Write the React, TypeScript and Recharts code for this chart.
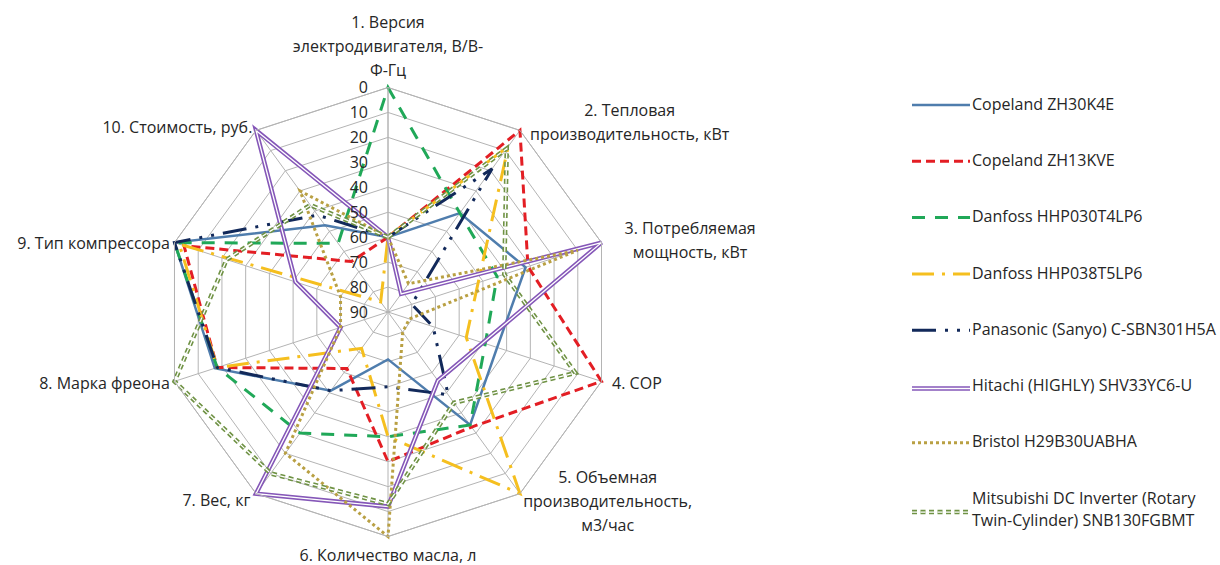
import React from 'react';
import { RadarChart, PolarGrid, PolarAngleAxis, PolarRadiusAxis, Radar, Legend } from 'recharts';

// axis names (line breaks as in the original)
const categories = [
  '1. Версия\nэлектродивигателя, В/В-\nФ-Гц',
  '2. Тепловая\nпроизводительность, кВт',
  '3. Потребляемая\nмощность, кВт',
  '4. COP',
  '5. Объемная\nпроизводительность,\nм3/час',
  '6. Количество масла, л',
  '7. Вес, кг',
  '8. Марка фреона',
  '9. Тип компрессора',
  '10. Стоимость, руб.',
];

const radiusTicks = [0, 10, 20, 30, 40, 50, 60, 70, 80, 90];

const copelandZH30K4E = [60, 41, 32, 44, 34, 71, 51, 17, 0, 47];
const copelandZH13KVE = [60, 0, 31, 0, 33, 30, 62, 18, 4, 65];
const danfossHHP030 = [0, 41, 44, 49, 34, 40, 30, 18, 0, 56];
const danfossHHP038 = [60, 8, 52, 57, 0, 40, 72, 18, 2, 85];
const panasonic = [60, 19, 80, 71, 49, 60, 51, 18, 0, 42];
const hitachi = [60, 81, 0, 50, 56, 12, 0, 70, 51, 0];
const bristol = [60, 76, 10, 81, 80, 0, 20, 70, 70, 30];
const mitsubishi = [60, 9, 41, 11, 45, 13, 10, 0, 22, 37];

const seriesNames = [
  'Copeland ZH30K4E',
  'Copeland ZH13KVE',
  'Danfoss HHP030T4LP6',
  'Danfoss HHP038T5LP6',
  'Panasonic (Sanyo) C-SBN301H5A',
  'Hitachi (HIGHLY)  SHV33YC6-U',
  'Bristol H29B30UABHA',
  'Mitsubishi DC Inverter (Rotary\nTwin-Cylinder) SNB130FGBMT',
];

const seriesValues = [
  copelandZH30K4E, copelandZH13KVE, danfossHHP030, danfossHHP038,
  panasonic, hitachi, bristol, mitsubishi,
];

const data = categories.map((axis, i) => {
  const row: Record<string, string | number> = { axis };
  seriesValues.forEach((vals, s) => { row['s' + s] = vals[i]; });
  return row;
});

// line styles per series
const styles = [
  { color: '#4f7dad', width: 2.5, dash: undefined, double: false },
  { color: '#e31e24', width: 3, dash: '9 5', double: false },
  { color: '#20a858', width: 3, dash: '13 10', double: false },
  { color: '#f5bf1f', width: 3, dash: '22 8 3 8', double: false },
  { color: '#12295a', width: 3, dash: '24 9 3 9 3 9', double: false },
  { color: '#8557b8', width: 4.5, dash: undefined, double: true },
  { color: '#b9a043', width: 3, dash: '3 3', double: false },
  { color: '#6f9244', width: 4.5, dash: '5 3.5', double: true },
];

const FONT = '"Open Sans", sans-serif';
const TEXT = '#262626';

// label placement around the web: anchor, offset from tick point, offset of first line
const labelLayout = [
  { anchor: 'middle', dx: 0, dy: -57 },
  { anchor: 'middle', dx: 105, dy: -14 },
  { anchor: 'middle', dx: 81, dy: -12 },
  { anchor: 'start', dx: 3, dy: 0 },
  { anchor: 'middle', dx: 83, dy: -23 },
  { anchor: 'middle', dx: 0, dy: 11 },
  { anchor: 'end', dx: -1, dy: 0 },
  { anchor: 'end', dx: 3, dy: 0 },
  { anchor: 'end', dx: 3, dy: 3 },
  { anchor: 'end', dx: 1, dy: 3 },
];

const AngleTick = (props: any) => {
  const { x, y, payload, index } = props;
  const lay = labelLayout[index] || { anchor: 'middle', dx: 0, dy: 0 };
  const lines = String(payload.value).split('\n');
  return (
    <text
      x={x + lay.dx}
      y={y + lay.dy}
      textAnchor={lay.anchor}
      fontFamily={FONT}
      fontSize={16}
      fill={TEXT}
    >
      {lines.map((ln, k) => (
        <tspan key={k} x={x + lay.dx} dy={k === 0 ? '0.35em' : 24}>
          {ln}
        </tspan>
      ))}
    </text>
  );
};

const RadiusTick = (props: any) => {
  const { x, y, payload } = props;
  return (
    <text x={x - 20} y={y} dy="0.35em" textAnchor="end" fontFamily={FONT} fontSize={16} fill={TEXT}>
      {payload.value}
    </text>
  );
};

const LegendBox = () => (
  <svg width={320} height={470} style={{ display: 'block' }}>
    {seriesNames.map((name, i) => {
      const st = styles[i];
      const lines = name.split('\n');
      const cy = 24 + i * 56.3 + (lines.length > 1 ? 11 : 0);
      return (
        <g key={name}>
          <line x1={12} x2={70} y1={cy + (st.double ? 3 : 1)} y2={cy + (st.double ? 3 : 1)}
            stroke={st.color} strokeWidth={st.width} strokeDasharray={st.dash} />
          {st.double && (
            <line x1={12} x2={70} y1={cy + 3} y2={cy + 3}
              stroke="#fff" strokeWidth={1.3} strokeDasharray={st.dash} />
          )}
          <text x={72} y={cy - (lines.length - 1) * 11} fontFamily={FONT} fontSize={16} fill={TEXT}>
            {lines.map((ln, k) => (
              <tspan key={k} x={72} dy={k === 0 ? '0.35em' : 22}>{ln}</tspan>
            ))}
          </text>
        </g>
      );
    })}
  </svg>
);

export default function App() {
  return (
    <div style={{ position: 'absolute', left: 0, top: 0, width: 1220, height: 565, background: '#fff' }}>
      <RadarChart width={1220} height={565} data={data} cx={388} cy={312} outerRadius={224.5}
        margin={{ top: 0, right: 0, bottom: 0, left: 0 }}>
        <PolarGrid gridType="polygon" stroke="#b4b4b4" strokeWidth={1} />
        <PolarAngleAxis dataKey="axis" tick={<AngleTick />} tickLine={false} axisLine={{ stroke: '#b4b4b4' }} />
        <PolarRadiusAxis angle={90} domain={[0, 90]} ticks={radiusTicks as any} tickCount={10} reversed
          tick={<RadiusTick />} axisLine={{ stroke: '#b4b4b4' }} />
        {styles.map((st, i) => (
          <React.Fragment key={i}>
            <Radar name={seriesNames[i]} dataKey={'s' + i} stroke={st.color} strokeWidth={st.width}
              strokeDasharray={st.dash} fill="none" fillOpacity={0} dot={false} isAnimationActive={false} />
            {st.double && (
              <Radar name={seriesNames[i] + ' inner'} dataKey={'s' + i} stroke="#fff" strokeWidth={1.3}
                strokeDasharray={st.dash} fill="none" fillOpacity={0} dot={false} legendType="none"
                isAnimationActive={false} />
            )}
          </React.Fragment>
        ))}
        <Legend content={<LegendBox />} wrapperStyle={{ left: 900, top: 80, width: 320 }} />
      </RadarChart>
    </div>
  );
}
